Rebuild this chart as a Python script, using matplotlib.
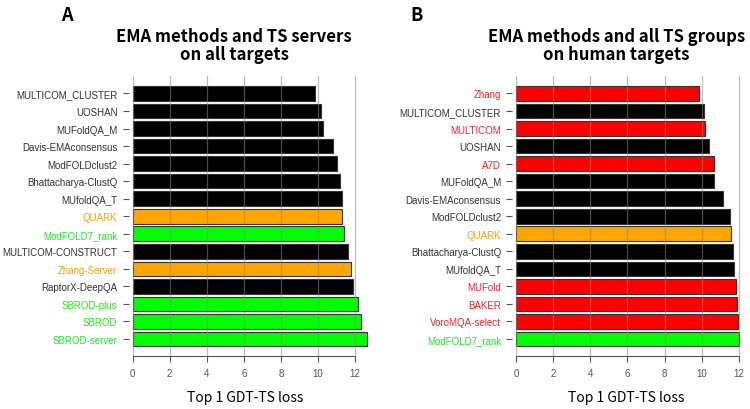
import matplotlib
matplotlib.use("Agg")
import matplotlib.pyplot as plt
import numpy as np

# --- data (top to bottom as shown) ---
names_a = ['MULTICOM_CLUSTER', 'UOSHAN', 'MUFoldQA_M', 'Davis-EMAconsensus', 'ModFOLDclust2',
           'Bhattacharya-ClustQ', 'MUfoldQA_T', 'QUARK', 'ModFOLD7_rank', 'MULTICOM-CONSTRUCT',
           'Zhang-Server', 'RaptorX-DeepQA', 'SBROD-plus', 'SBROD', 'SBROD-server']
loss_a = [9.84, 10.17, 10.29, 10.83, 11.05, 11.18, 11.28, 11.29, 11.41, 11.64,
          11.77, 11.91, 12.15, 12.31, 12.63]
group_a = ['ema', 'ema', 'ema', 'ema', 'ema', 'ema', 'ema', 'server', 'single', 'ema',
           'server', 'ema', 'single', 'single', 'single']

names_b = ['Zhang', 'MULTICOM_CLUSTER', 'MULTICOM', 'UOSHAN', 'A7D', 'MUFoldQA_M',
           'Davis-EMAconsensus', 'ModFOLDclust2', 'QUARK', 'Bhattacharya-ClustQ', 'MUfoldQA_T',
           'MUFold', 'BAKER', 'VoroMQA-select', 'ModFOLD7_rank']
loss_b = [9.86, 10.15, 10.20, 10.42, 10.65, 10.69, 11.15, 11.55, 11.57, 11.68, 11.75,
          11.86, 11.91, 11.96, 12.00]
group_b = ['human', 'ema', 'human', 'ema', 'human', 'ema', 'ema', 'ema', 'server', 'ema', 'ema',
           'human', 'human', 'human', 'single']

xticks = [0, 2, 4, 6, 8, 10, 12]

BAR_COLORS = {'ema': '#000000', 'server': '#FFA500', 'single': '#00FF00', 'human': '#FF0000'}
TEXT_COLORS = {'ema': '#333333', 'server': '#FFA500', 'single': '#22EE22', 'human': '#FF2222'}

fig = plt.figure(figsize=(7.5, 4.1), dpi=100)


def draw_panel(ax, names, vals, groups):
    n = len(names)
    ypos = np.arange(n)[::-1]
    # spine position first: it resets the ticks
    for side in ['top', 'right']:
        ax.spines[side].set_visible(False)
    ax.spines['left'].set_position(('outward', 3))
    ax.spines['left'].set_color('none')
    ax.spines['bottom'].set_color('#555555')

    ax.barh(ypos, vals, height=0.83, color=[BAR_COLORS[g] for g in groups],
            edgecolor='#333333', linewidth=0.8, zorder=2, clip_on=False)
    for x in xticks:
        ax.axvline(x, color='#888888', alpha=0.55, linewidth=0.9, zorder=3)
    ax.set_xlim(0, 12.1)
    ax.set_ylim(-0.97, n)
    ax.set_yticks(ypos)
    ax.set_yticklabels(names, fontsize=7, family='Liberation Sans')
    for lab, g in zip(ax.get_yticklabels(), groups):
        lab.set_color(TEXT_COLORS[g])
    ax.set_xticks(xticks)
    ax.set_xticklabels([str(x) for x in xticks], fontsize=7, family='Liberation Sans',
                       color='#555555')
    ax.spines['bottom'].set_bounds(0, 12)
    ax.tick_params(axis='y', length=4, color='#555555', pad=4)
    ax.tick_params(axis='x', length=4.5, color='#555555', pad=4)
    ax.set_facecolor('none')


ax_a = fig.add_axes([0.1769, 0.1293, 0.299, 0.683])
draw_panel(ax_a, names_a, loss_a, group_a)
ax_b = fig.add_axes([0.6884, 0.1293, 0.299, 0.683])
draw_panel(ax_b, names_b, loss_b, group_b)

title_font = ['Noto Sans CJK KR', 'DejaVu Sans']
fig.text(0.312, 0.889, 'EMA methods and TS servers\non all targets', ha='center', va='center',
         fontsize=12, fontweight='bold', family=title_font, linespacing=1.0)
fig.text(0.822, 0.889, 'EMA methods and all TS groups\non human targets', ha='center', va='center',
         fontsize=12, fontweight='bold', family=title_font, linespacing=1.0)
fig.text(0.089, 0.963, 'A', ha='center', va='center', fontsize=13, fontweight='bold',
         family=title_font)
fig.text(0.556, 0.963, 'B', ha='center', va='center', fontsize=13, fontweight='bold',
         family=title_font)
fig.text(0.327, 0.029, 'Top 1 GDT-TS loss', ha='center', va='center', fontsize=10,
         family=title_font)
fig.text(0.835, 0.029, 'Top 1 GDT-TS loss', ha='center', va='center', fontsize=10,
         family=title_font)

fig.savefig('out.png', dpi=100)
